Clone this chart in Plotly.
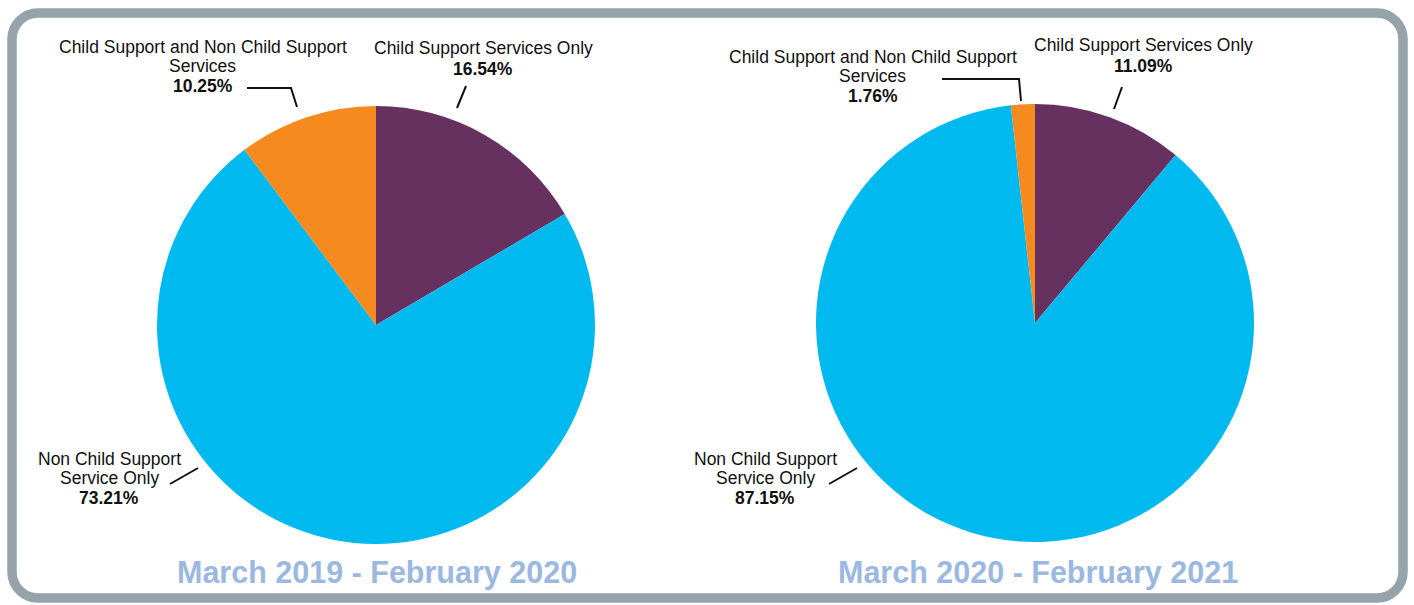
import plotly.graph_objects as go

# ---------------- data ----------------
categories = [
    "Child Support Services Only",
    "Non Child Support Service Only",
    "Child Support and Non Child Support Services",
]
label_lines = [
    ["Child Support Services Only"],
    ["Non Child Support", "Service Only"],
    ["Child Support and Non Child Support", "Services"],
]
period_titles = ["March 2019 - February 2020", "March 2020 - February 2021"]
values_2019 = [16.54, 73.21, 10.25]
values_2020 = [11.09, 87.15, 1.76]

# ---------------- styling / layout ----------------
W, H = 1414, 605
colors = ["#66305F", "#00B9EF", "#F58A1F"]
FONT = "Liberation Sans, Arial, sans-serif"
TITLE_COLOR = "#9BB8E1"
BORDER_COLOR = "#97A3AA"


def px(x):
    return x / W


def py(y):
    return 1 - y / H


panels = [
    dict(values=values_2019, title=period_titles[0], cx=376, cy=325, r=219, tx=377, ty=572,
         label_pos=[(483, 48), (109, 459), (203, 47)],
         leaders=[[(466, 86), (457, 108)],
                  [(170, 484), (198, 468)],
                  [(247, 88), (291, 88), (297, 107)]]),
    dict(values=values_2020, title=period_titles[1], cx=1035, cy=323, r=219, tx=1038, ty=572,
         label_pos=[(1143, 45), (765, 459), (873, 57)],
         leaders=[[(1122, 87), (1114, 109)],
                  [(829, 484), (857, 468)],
                  [(942, 79), (1019, 79), (1021, 101)]]),
]

fig = go.Figure()
annotations = []
shapes = []

for p in panels:
    fig.add_trace(go.Pie(
        labels=categories,
        values=p["values"],
        marker=dict(colors=colors, line=dict(width=0)),
        sort=False,
        direction="clockwise",
        rotation=0,
        textinfo="none",
        hovertemplate="%{label}: %{value:.2f}%<extra></extra>",
        domain=dict(x=[px(p["cx"] - p["r"]), px(p["cx"] + p["r"])],
                    y=[py(p["cy"] + p["r"]), py(p["cy"] - p["r"])]),
        showlegend=False,
    ))
    # labels
    for i, lines in enumerate(label_lines):
        lx, ly = p["label_pos"][i]
        for j, line in enumerate(lines):
            annotations.append(dict(
                x=px(lx), y=py(ly + 18.5 * j), xref="paper", yref="paper",
                text=line, showarrow=False, xanchor="center", yanchor="middle",
                font=dict(family=FONT, size=17.5, color="#111111")))
        pct_y = ly + 18.5 * (len(lines) - 1) + 20.5
        annotations.append(dict(
            x=px(lx), y=py(pct_y), xref="paper", yref="paper",
            text="<b>%.2f%%</b>" % p["values"][i], showarrow=False,
            xanchor="center", yanchor="middle",
            font=dict(family=FONT, size=17.5, color="#111111")))
        # leader lines
        pts = p["leaders"][i]
        path = "M " + " L ".join("%f,%f" % (px(a), py(b)) for a, b in pts)
        shapes.append(dict(type="path", path=path, xref="paper", yref="paper",
                           line=dict(color="#111111", width=2)))
    annotations.append(dict(
        x=px(p["tx"]), y=py(p["ty"]), xref="paper", yref="paper",
        text="<b>%s</b>" % p["title"], showarrow=False, xanchor="center", yanchor="middle",
        font=dict(family=FONT, size=30.5, color=TITLE_COLOR)))

# rounded border
x0, y0, x1, y1, rad = 12, 13, 1403, 598, 26
k = 0.5523 * rad


def P(x, y):
    return "%f,%f" % (px(x), py(y))


border = ("M " + P(x0 + rad, y0) + " L " + P(x1 - rad, y0) +
          " C " + P(x1 - rad + k, y0) + " " + P(x1, y0 + rad - k) + " " + P(x1, y0 + rad) +
          " L " + P(x1, y1 - rad) +
          " C " + P(x1, y1 - rad + k) + " " + P(x1 - rad + k, y1) + " " + P(x1 - rad, y1) +
          " L " + P(x0 + rad, y1) +
          " C " + P(x0 + rad - k, y1) + " " + P(x0, y1 - rad + k) + " " + P(x0, y1 - rad) +
          " L " + P(x0, y0 + rad) +
          " C " + P(x0, y0 + rad - k) + " " + P(x0 + rad - k, y0) + " " + P(x0 + rad, y0) + " Z")
shapes.append(dict(type="path", path=border, xref="paper", yref="paper",
                   line=dict(color=BORDER_COLOR, width=9.5), layer="below"))

fig.update_layout(
    width=W, height=H,
    margin=dict(l=0, r=0, t=0, b=0),
    paper_bgcolor="white", plot_bgcolor="white",
    showlegend=False,
    annotations=annotations,
    shapes=shapes,
)

fig.write_html("out.html", include_plotlyjs=True, full_html=True,
               config=dict(displayModeBar=False))
